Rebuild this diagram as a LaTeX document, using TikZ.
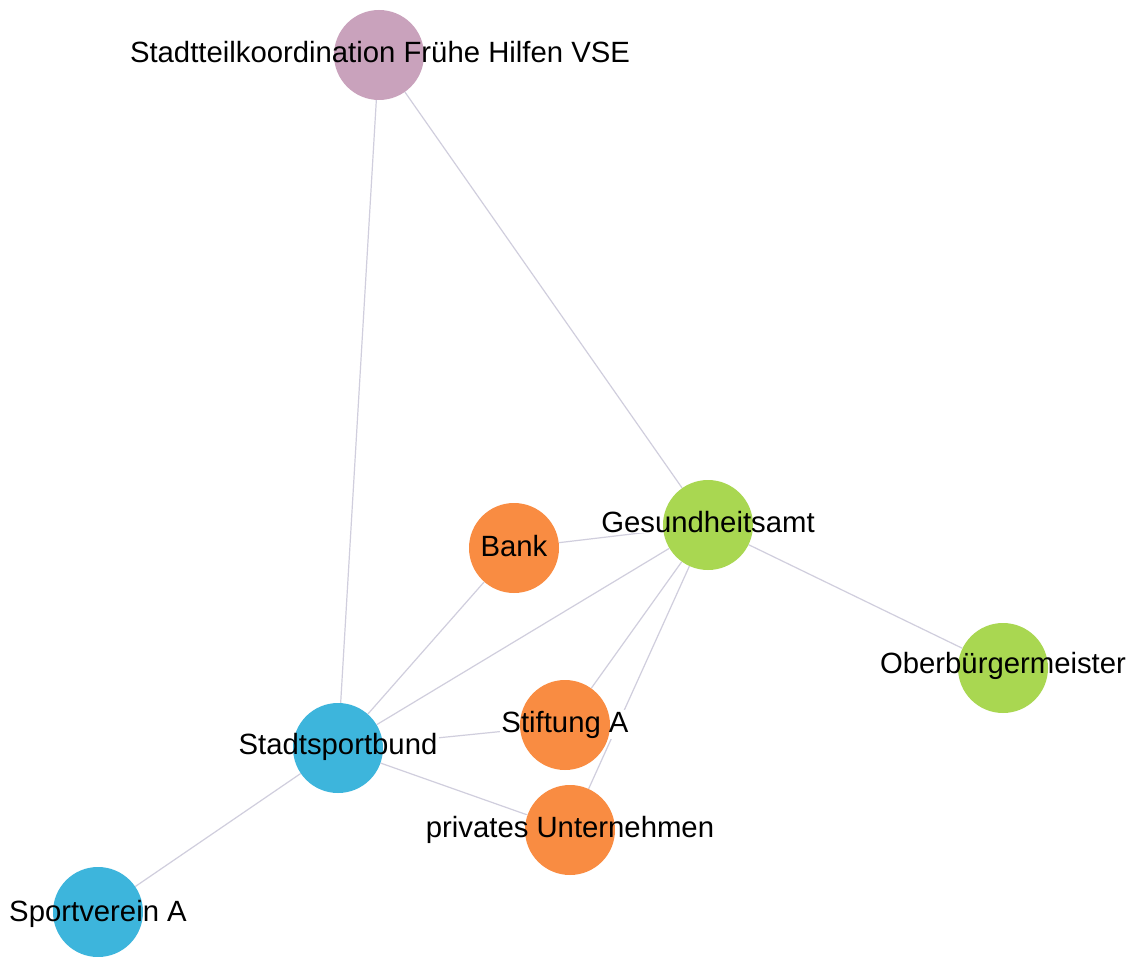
\documentclass[tikz,border=0pt]{standalone}
\usepackage{fontspec}
\setmainfont{Liberation Sans}
\pgfdeclarelayer{bglayer}
\pgfdeclarelayer{edgelayer}
\pgfdeclarelayer{halolayer}
\pgfdeclarelayer{textlayer}
\pgfsetlayers{bglayer,edgelayer,halolayer,main,textlayer}
\definecolor{mauveN}{HTML}{C9A2BC}
\definecolor{orangeN}{HTML}{F98C42}
\definecolor{greenN}{HTML}{A9D751}
\definecolor{blueN}{HTML}{3DB5DC}
\definecolor{edgeC}{HTML}{D0CEDD}
\begin{document}
\begin{tikzpicture}[x=1pt,y=-1pt,
  vertex/.style={circle,minimum size=90pt,inner sep=0pt,draw=none},
  tag/.style={anchor=base,inner sep=1pt,text=black,font=\fontsize{29.3}{35}\selectfont},
  link/.style={draw=edgeC,line width=1.2pt}]
\begin{pgfonlayer}{bglayer}
\fill[white] (0,0) rectangle (1134,957);
\end{pgfonlayer}
\useasboundingbox (0,0) rectangle (1134,957);

% network members
\node[vertex,fill=mauveN]  (stk) at (379,55)   {};
\node[vertex,fill=greenN]  (ges) at (708,525)  {};
\node[vertex,fill=orangeN] (bnk) at (514,548)  {};
\node[vertex,fill=greenN]  (obm) at (1003,668) {};
\node[vertex,fill=orangeN] (stf) at (565,725)  {};
\node[vertex,fill=blueN]   (ssb) at (338,748)  {};
\node[vertex,fill=orangeN] (pvu) at (570,830)  {};
\node[vertex,fill=blueN]   (spv) at (98,912)   {};

% names
\begin{pgfonlayer}{textlayer}
\node[tag] (t-stk) at (380,63)  {Stadtteilkoordination Frühe Hilfen VSE};
\node[tag] (t-ges) at (708,532) {Gesundheitsamt};
\node[tag] (t-bnk) at (514,556) {Bank};
\node[tag] (t-obm) at (1003,673) {Oberbürgermeister};
\node[tag] (t-stf) at (565,732) {Stiftung A};
\node[tag] (t-ssb) at (338,754) {Stadtsportbund};
\node[tag] (t-pvu) at (570,837) {privates Unternehmen};
\node[tag] (t-spv) at (98,921)  {Sportverein A};
\end{pgfonlayer}

% white boxes keep the links from running through the names
\begin{pgfonlayer}{halolayer}
\foreach \t in {t-stk,t-ges,t-bnk,t-obm,t-stf,t-ssb,t-pvu,t-spv}
  \fill[white] (\t.south west) rectangle (\t.north east);
\end{pgfonlayer}

% links
\begin{pgfonlayer}{edgelayer}
\draw[link] (stk) -- (ssb);
\draw[link] (stk) -- (ges);
\draw[link] (ges) -- (bnk);
\draw[link] (ges) -- (obm);
\draw[link] (ges) -- (ssb);
\draw[link] (ges) -- (stf);
\draw[link] (ges) -- (pvu);
\draw[link] (bnk) -- (ssb);
\draw[link] (ssb) -- (stf);
\draw[link] (ssb) -- (pvu);
\draw[link] (ssb) -- (spv);
\end{pgfonlayer}
\end{tikzpicture}
\end{document}
